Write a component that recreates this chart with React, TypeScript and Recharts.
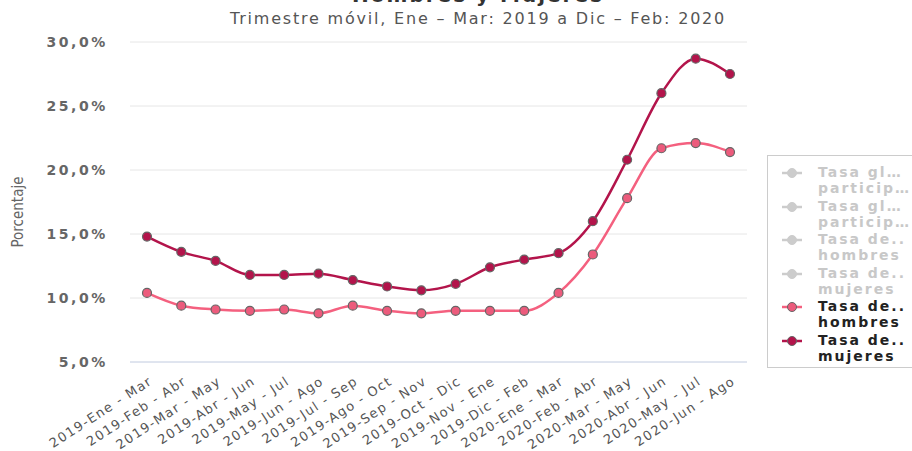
import { LineChart, Line, XAxis, YAxis, CartesianGrid } from 'recharts'

const periods = [
  '2019-Ene - Mar', '2019-Feb - Abr', '2019-Mar - May', '2019-Abr - Jun', '2019-May - Jul', '2019-Jun - Ago',
  '2019-Jul - Sep', '2019-Ago - Oct', '2019-Sep - Nov', '2019-Oct - Dic', '2019-Nov - Ene', '2019-Dic - Feb',
  '2020-Ene - Mar', '2020-Feb - Abr', '2020-Mar - May', '2020-Abr - Jun', '2020-May - Jul', '2020-Jun - Ago',
]
const hombres = [10.4, 9.4, 9.1, 9.0, 9.1, 8.8, 9.4, 9.0, 8.8, 9.0, 9.0, 9.0, 10.4, 13.4, 17.8, 21.7, 22.1, 21.4]
const mujeres = [14.8, 13.6, 12.9, 11.8, 11.8, 11.9, 11.4, 10.9, 10.6, 11.1, 12.4, 13.0, 13.5, 16.0, 20.8, 26.0, 28.7, 27.5]
const yTicks = [5, 10, 15, 20, 25, 30]

const legendItems = [
  { lines: ['Tasa gl…', 'particip…'], active: false, fill: '#ccc' },
  { lines: ['Tasa gl…', 'particip…'], active: false, fill: '#ccc' },
  { lines: ['Tasa de..', 'hombres'], active: false, fill: '#ccc' },
  { lines: ['Tasa de..', 'mujeres'], active: false, fill: '#ccc' },
  { lines: ['Tasa de..', 'hombres'], active: true, fill: '#ec5b7c', stroke: '#f4607f' },
  { lines: ['Tasa de..', 'mujeres'], active: true, fill: '#b3144b', stroke: '#b3144b' },
]

const data = periods.map((p, i) => ({ p, hombres: hombres[i], mujeres: mujeres[i] }))

const pct = (v: number) => v.toFixed(1).replace('.', ',') + '%'

function XTick({ x, y, payload }: any) {
  return (
    <g transform={`translate(${x + 4},${y + 10})`}>
      <text x={0} y={0} dy={4} textAnchor="end" transform="rotate(-33)" fontSize={13} fill="#555" letterSpacing={1.4} fontFamily="'DejaVu Sans', sans-serif">
        {payload.value}
      </text>
    </g>
  )
}

function LegendBox() {
  return (
    <div style={{ position: 'absolute', left: 767, top: 155, border: '1px solid #ccc', width: 160, height: 213, boxSizing: 'border-box', paddingTop: 8, fontFamily: "'DejaVu Sans', sans-serif" }}>
      {legendItems.map((it, i) => (
        <div key={i} style={{ display: 'flex', height: 33.6 }}>
          <svg width={50} height={18} style={{ flex: 'none' }}>
            <line x1={14} x2={34} y1={9} y2={9} stroke={it.active ? it.stroke : '#ccc'} strokeWidth={2.5} />
            <circle cx={24} cy={9} r={4.5} fill={it.fill} stroke={it.active ? '#666' : '#ccc'} strokeWidth={1} />
          </svg>
          <div style={{ fontSize: 14, fontWeight: 'bold', lineHeight: '16px', letterSpacing: 2, color: it.active ? '#222' : '#c8c8c8', whiteSpace: 'nowrap' }}>
            {it.lines[0]}<br />{it.lines[1]}
          </div>
        </div>
      ))}
    </div>
  )
}

export default function App() {
  return (
    <div style={{ position: 'absolute', left: 0, top: 0, width: 912, height: 451, overflow: 'hidden', background: '#fff' }}>
      <svg width={912} height={40} style={{ position: 'absolute', left: 0, top: 0 }}>
        <text x={478} y={2} textAnchor="middle" fontSize={20} fontWeight="bold" fill="#333" letterSpacing={2} fontFamily="'DejaVu Sans', sans-serif">Hombres y Mujeres</text>
        <text x={478} y={24} textAnchor="middle" fontSize={16} fill="#555" letterSpacing={1.8} fontFamily="'DejaVu Sans', sans-serif">Trimestre móvil, Ene – Mar: 2019 a Dic – Feb: 2020</text>
      </svg>
      <svg width={40} height={451} style={{ position: 'absolute', left: 0, top: 0 }}>
        <text x={0} y={0} transform="translate(23,212) rotate(-90)" textAnchor="middle" fontSize={15} fill="#666" fontFamily="'Liberation Sans Narrow', 'DejaVu Sans Condensed', sans-serif">Porcentaje</text>
      </svg>
      <LineChart width={912} height={451} data={data} margin={{ top: 42, right: 165, bottom: 0, left: 0 }} style={{ position: 'absolute', left: 0, top: 0 }}>
        <CartesianGrid vertical={false} stroke="#e6e6e6" />
        <XAxis dataKey="p" interval={0} height={89} padding={{ left: 17, right: 17 }} tick={<XTick />} tickLine={false} axisLine={{ stroke: '#ccd6eb' }} />
        <YAxis width={130} domain={[5, 30]} ticks={yTicks} tickFormatter={pct} axisLine={false} tickLine={false} tickSize={0} tickMargin={22}
          tick={{ fontSize: 14, fontWeight: 'bold', fill: '#666', letterSpacing: 2.6, fontFamily: "'DejaVu Sans', sans-serif" }} />
        <Line type="monotone" dataKey="hombres" stroke="#f4607f" strokeWidth={2.5} dot={{ r: 4.5, fill: '#ec5b7c', stroke: '#666', strokeWidth: 1.2 }} isAnimationActive={false} />
        <Line type="monotone" dataKey="mujeres" stroke="#b3144b" strokeWidth={2.5} dot={{ r: 4.5, fill: '#b3144b', stroke: '#666', strokeWidth: 1.2 }} isAnimationActive={false} />
      </LineChart>
      <LegendBox />
    </div>
  )
}
